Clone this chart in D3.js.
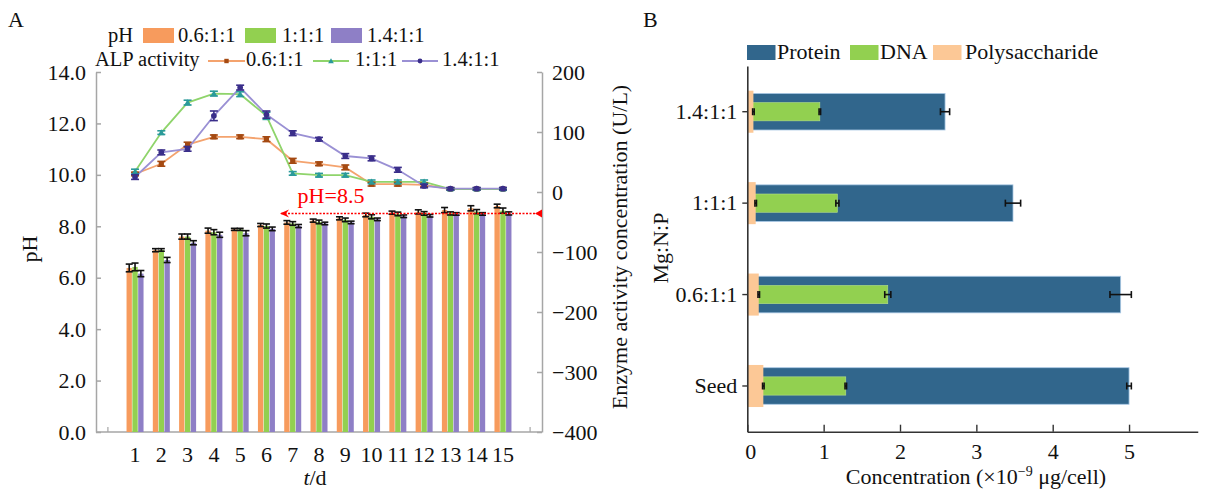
<!DOCTYPE html>
<html><head><meta charset="utf-8">
<script src="https://cdn.jsdelivr.net/npm/d3@7"></script>
<style>
html,body{margin:0;padding:0;background:#fff;}
svg text{font-family:'Liberation Serif','Times New Roman',serif;fill:#111;}
</style></head>
<body><svg id="c" width="1205" height="491"></svg>
<script>
// ---------- Panel A data ----------
const days = [1,2,3,4,5,6,7,8,9,10,11,12,13,14,15];
const ratios = ["0.6:1:1","1:1:1","1.4:1:1"];
const phOrange = [6.38,7.07,7.60,7.83,7.88,8.05,8.15,8.22,8.31,8.44,8.53,8.56,8.63,8.70,8.79];
const phGreen  = [6.42,7.08,7.60,7.77,7.88,8.01,8.11,8.17,8.25,8.37,8.48,8.50,8.50,8.57,8.61];
const phPurple = [6.16,6.69,7.36,7.67,7.73,7.90,8.01,8.11,8.15,8.27,8.39,8.41,8.48,8.48,8.50];
const phErrOrange = [0.15,0.06,0.10,0.10,0.04,0.06,0.07,0.06,0.06,0.07,0.06,0.08,0.10,0.10,0.07];
const phErrGreen  = [0.15,0.05,0.10,0.10,0.04,0.08,0.07,0.07,0.07,0.08,0.07,0.07,0.06,0.08,0.10];
const phErrPurple = [0.12,0.10,0.08,0.10,0.10,0.07,0.06,0.05,0.05,0.05,0.05,0.05,0.05,0.05,0.06];
const alpOrange = [30,47,79,92,92,88,52,47,41,13,13,12,5,5,5];
const alpGreen  = [34,99,149,164,163,127,31,28,28,17,17,17,5,5,5];
const alpPurple = [25,66,72,127,174,129,98,88,60,56,37,10,5.6,5.6,5.6];
const alpErrOrange = [3,4,4,3,3,4,4,3,4,3,3,3,2,2,2];
const alpErrGreen  = [4,3,4,4,4,6,3,3,3,3,3,3,2,2,2];
const alpErrPurple = [4,4,4,8,4,6,4,3,4,4,4,3,2,2,2];
const phTicks = [0,2,4,6,8,10,12,14];
const alpTicks = [-400,-300,-200,-100,0,100,200];
const refPH = 8.5;

// ---------- Panel B data ----------
const catsB = ["Seed","0.6:1:1","1:1:1","1.4:1:1"];
const protein = [5.00,4.89,3.48,2.59];
const proteinErr = [0.03,0.14,0.10,0.06];
const dna = [1.29,1.84,1.18,0.95];
const dnaErr = [0.01,0.04,0.02,0.01];
const poly = [0.21,0.15,0.11,0.08];
const polyErr = [0.01,0.01,0.01,0.01];
const concTicks = [0,1,2,3,4,5];

const barColors = ["#f79b5d","#92d050","#8e7fc6"];
const lineColors = ["#f4a36e","#8fd46b","#9a90d4"];
const markColors = ["#a54a12","#2a9a9a","#3a2e8a"];
const colProtein = "#31668c", colDNA = "#92d050", colPoly = "#fcc896";

const svg = d3.select("#c");
const FS = 22, LFS = 20.5;

// ================= Panel A =================
const yL = d3.scaleLinear().domain([0,14]).range([432,72]);
const yR = d3.scaleLinear().domain([-400,200]).range([432,72]);
const xA = d3.scaleBand().domain(days).range([121.9,516.1]).padding(0);
const xIn = d3.scaleBand().domain(ratios).range([-8.5,8.5]).paddingInner(0.08);
const cx = d => xA(d) + xA.bandwidth()/2;
const axisGray = "#a6a6a6";

const gA = svg.append("g");
const la = gA.append("g").attr("transform","translate(96,0)")
  .call(d3.axisLeft(yL).tickValues(phTicks).tickFormat(d3.format(".1f")).tickSizeInner(-5).tickSizeOuter(0).tickPadding(10));
const ra = gA.append("g").attr("transform","translate(542,0)")
  .call(d3.axisRight(yR).tickValues(alpTicks).tickSizeInner(-5).tickSizeOuter(0).tickPadding(10));
[la,ra].forEach(a=>{
  a.select(".domain").attr("stroke",axisGray).attr("stroke-width",1.5);
  a.selectAll(".tick line").attr("stroke",axisGray).attr("stroke-width",1.5);
  a.selectAll("text").attr("font-size",FS).attr("font-family","'Liberation Serif',serif").attr("fill","#111");
});
const ba = gA.append("g").attr("transform","translate(0,432)")
  .call(d3.axisBottom(xA).tickSize(0).tickPadding(14));
ba.select(".domain").remove();
ba.selectAll("text").attr("font-size",FS).attr("font-family","'Liberation Serif',serif").attr("fill","#111");
gA.append("line").attr("x1",96).attr("x2",542).attr("y1",432).attr("y2",432).attr("stroke",axisGray).attr("stroke-width",1.5);
[xA.range()[0]-14, xA.range()[1]+14].forEach(x=>{
  gA.append("line").attr("x1",x).attr("x2",x).attr("y1",432).attr("y2",427).attr("stroke",axisGray).attr("stroke-width",1.2);
});

// bars
const phSeries = [phOrange,phGreen,phPurple];
const phErrs = [phErrOrange,phErrGreen,phErrPurple];
ratios.forEach((r,si)=>{
  gA.append("g").selectAll("rect").data(days).join("rect")
    .attr("x",d=>cx(d)+xIn(r)).attr("width",xIn.bandwidth())
    .attr("y",(d,i)=>yL(phSeries[si][i])).attr("height",(d,i)=>yL(0)-yL(phSeries[si][i]))
    .attr("fill",barColors[si]);
});
ratios.forEach((r,si)=>{
  days.forEach((d,i)=>{
    const x = cx(d)+xIn(r)+xIn.bandwidth()/2;
    const v = phSeries[si][i], e = phErrs[si][i];
    const g = gA.append("g").attr("stroke","#111").attr("stroke-width",1.6);
    g.append("line").attr("x1",x).attr("x2",x).attr("y1",yL(v+e)).attr("y2",yL(v-e));
    g.append("line").attr("x1",x-3.5).attr("x2",x+3.5).attr("y1",yL(v+e)).attr("y2",yL(v+e));
    g.append("line").attr("x1",x-3.5).attr("x2",x+3.5).attr("y1",yL(v-e)).attr("y2",yL(v-e));
  });
});

// reference line pH=8.5
const refY = yL(refPH);
gA.append("line").attr("x1",281).attr("x2",537).attr("y1",refY).attr("y2",refY)
  .attr("stroke","#ff0000").attr("stroke-width",1.5).attr("stroke-dasharray","2,1.5");
gA.append("path").attr("d",`M280,${refY} L289,${refY-4} L286,${refY} L289,${refY+4} Z`).attr("fill","#ff0000");
gA.append("path").attr("d",`M535,${refY} L542,${refY-4} L542,${refY+4} Z`).attr("fill","#ff0000");
gA.append("text").attr("x",331).attr("y",203).attr("text-anchor","middle").attr("font-size",FS)
  .style("fill","#ff0000").text("pH=" + refPH);

// ALP lines
const alpSeries = [alpOrange,alpGreen,alpPurple];
const alpErrs = [alpErrOrange,alpErrGreen,alpErrPurple];
function marker(g, si, x, y, s){
  if(si===0) g.append("rect").attr("x",x-s).attr("y",y-s).attr("width",2*s).attr("height",2*s).attr("fill",markColors[0]);
  else if(si===1) g.append("path").attr("d",`M${x},${y-s*1.3} L${x+s*1.3},${y+s} L${x-s*1.3},${y+s} Z`).attr("fill",markColors[1]);
  else g.append("circle").attr("cx",x).attr("cy",y).attr("r",s*1.1).attr("fill",markColors[2]);
}
ratios.forEach((r,si)=>{
  const line = d3.line().x((d,i)=>cx(days[i])).y(d=>yR(d));
  gA.append("path").datum(alpSeries[si]).attr("d",line).attr("fill","none")
    .attr("stroke",lineColors[si]).attr("stroke-width",1.8);
});
ratios.forEach((r,si)=>{
  days.forEach((d,i)=>{
    const x = cx(d), v = alpSeries[si][i], e = alpErrs[si][i];
    const g = gA.append("g");
    const eg = g.append("g").attr("stroke",markColors[si]).attr("stroke-width",1.6);
    eg.append("line").attr("x1",x).attr("x2",x).attr("y1",yR(v+e)).attr("y2",yR(v-e));
    eg.append("line").attr("x1",x-4).attr("x2",x+4).attr("y1",yR(v+e)).attr("y2",yR(v+e));
    eg.append("line").attr("x1",x-4).attr("x2",x+4).attr("y1",yR(v-e)).attr("y2",yR(v-e));
    marker(g, si, x, yR(v), 2.6);
  });
});

// axis titles A
gA.append("text").attr("transform","translate(37,249) rotate(-90)").attr("text-anchor","middle").attr("font-size",FS).text("pH");
gA.append("text").attr("transform","translate(627,247) rotate(-90)").attr("text-anchor","middle").attr("font-size",FS).text("Enzyme activity concentration (U/L)");
const td = gA.append("text").attr("x",315).attr("y",485).attr("text-anchor","middle").attr("font-size",FS);
td.append("tspan").attr("font-style","italic").text("t");
td.append("tspan").text("/d");
gA.append("text").attr("x",8).attr("y",27).attr("font-size",FS).text("A");

// legend A
const lg = gA.append("g");
lg.append("text").attr("x",108).attr("y",42).attr("font-size",LFS).text("pH");
[143,245,331].forEach((x,i)=>{
  lg.append("rect").attr("x",x).attr("y",28).attr("width",31).attr("height",15).attr("fill",barColors[i]);
});
[178,282,367].forEach((x,i)=>lg.append("text").attr("x",x).attr("y",42).attr("font-size",LFS).text(ratios[i]));
lg.append("text").attr("x",95).attr("y",65.5).attr("font-size",LFS).text("ALP activity");
[[208,245],[313,349],[402,438]].forEach((p,i)=>{
  lg.append("line").attr("x1",p[0]).attr("x2",p[1]).attr("y1",61).attr("y2",61).attr("stroke",lineColors[i]).attr("stroke-width",1.8);
  marker(lg, i, (p[0]+p[1])/2, 61, 2.2);
});
[246,355,442].forEach((x,i)=>lg.append("text").attr("x",x).attr("y",65.5).attr("font-size",LFS).text(ratios[i]));

// ================= Panel B =================
const gB = svg.append("g");
const xB = d3.scaleLinear().domain([0,5.9]).range([747.3,747.3+5.9*76.35]);
const yB = d3.scaleBand().domain(catsB).range([431.7,66]).padding(0);
const cy = c => yB(c) + yB.bandwidth()/2;
const bw = yB.bandwidth();
const bAxisCol = "#333";

catsB.forEach((c,i)=>{
  const y = cy(c);
  gB.append("rect").attr("x",xB(0)).attr("y",y-bw*0.2).attr("width",xB(protein[i])-xB(0)).attr("height",bw*0.4)
    .attr("fill",colProtein).attr("stroke","#a9c8e4").attr("stroke-width",0.8);
  gB.append("rect").attr("x",xB(0)).attr("y",y-bw*0.1).attr("width",xB(dna[i])-xB(0)).attr("height",bw*0.2)
    .attr("fill",colDNA).attr("stroke","#b5df8a").attr("stroke-width",0.6);
  gB.append("rect").attr("x",xB(0)).attr("y",y-bw*0.23).attr("width",xB(poly[i])-xB(0)).attr("height",bw*0.46)
    .attr("fill",colPoly);
});
function hErr(v,e,y){
  const g = gB.append("g").attr("stroke","#111").attr("stroke-width",1.6);
  g.append("line").attr("x1",xB(v-e)).attr("x2",xB(v+e)).attr("y1",y).attr("y2",y);
  g.append("line").attr("x1",xB(v-e)).attr("x2",xB(v-e)).attr("y1",y-3.5).attr("y2",y+3.5);
  g.append("line").attr("x1",xB(v+e)).attr("x2",xB(v+e)).attr("y1",y-3.5).attr("y2",y+3.5);
}
catsB.forEach((c,i)=>{
  const y = cy(c);
  hErr(protein[i],proteinErr[i],y);
  hErr(dna[i],dnaErr[i],y);
  hErr(poly[i],polyErr[i],y);
});

const bx = gB.append("g").attr("transform","translate(0,431.7)")
  .call(d3.axisBottom(xB).tickValues(concTicks).tickFormat(d3.format("d")).tickSizeInner(-7).tickSizeOuter(0).tickPadding(12));
const by = gB.append("g").attr("transform","translate(747.3,0)")
  .call(d3.axisLeft(yB).tickSizeInner(5).tickSizeOuter(0).tickPadding(5));
[bx,by].forEach(a=>{
  a.select(".domain").attr("stroke",bAxisCol).attr("stroke-width",1.6);
  a.selectAll(".tick line").attr("stroke",bAxisCol).attr("stroke-width",1.4);
  a.selectAll("text").attr("font-size",FS).attr("font-family","'Liberation Serif',serif").attr("fill","#111");
});
bx.select(".tick text").attr("dx",3);

gB.append("text").attr("transform","translate(668,248) rotate(-90)").attr("text-anchor","middle").attr("font-size",FS).text("Mg:N:P");
const xt = gB.append("text").attr("x",976).attr("y",484).attr("text-anchor","middle").attr("font-size",FS);
xt.append("tspan").text("Concentration (×10");
xt.append("tspan").attr("dy",-8).attr("font-size",14).text("−9");
xt.append("tspan").attr("dy",8).text(" μg/cell)");
gB.append("text").attr("x",643).attr("y",27).attr("font-size",FS).text("B");

const lgB = gB.append("g");
[["Protein",colProtein,747,777],["DNA",colDNA,850,880],["Polysaccharide",colPoly,933,965]].forEach(a=>{
  lgB.append("rect").attr("x",a[2]).attr("y",45).attr("width",28.5).attr("height",15).attr("fill",a[1]);
  lgB.append("text").attr("x",a[3]).attr("y",59).attr("font-size",FS).text(a[0]);
});
</script></body></html>
